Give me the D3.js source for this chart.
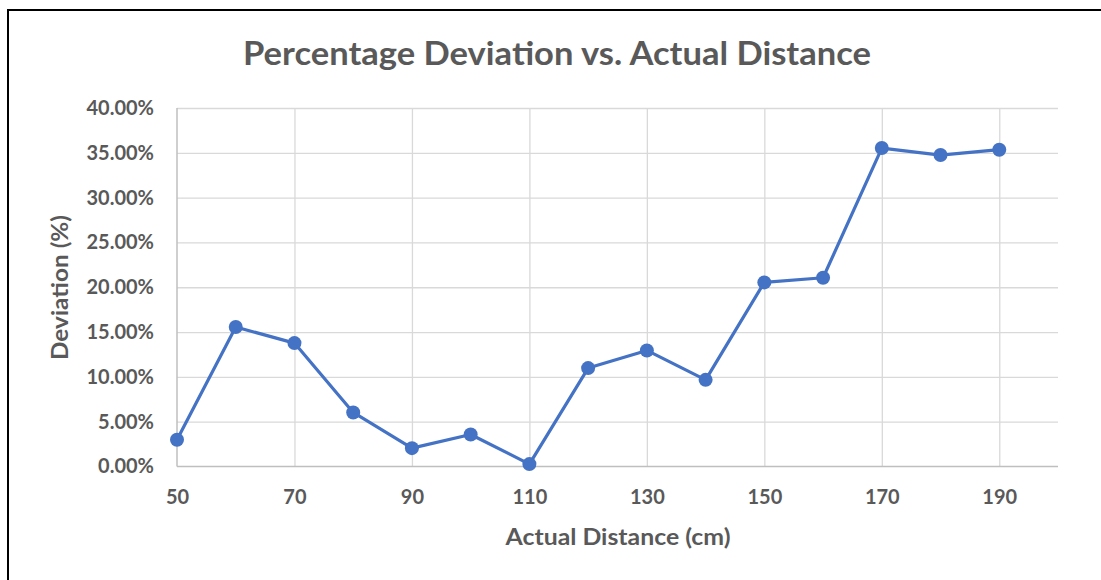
<!DOCTYPE html>
<html>
<head>
<meta charset="utf-8">
<script src="https://cdn.jsdelivr.net/npm/d3@7"></script>
<style>
  html, body { margin: 0; padding: 0; background: #fff; }
  svg { display: block; }
  text { font-family: Lato, "Open Sans", sans-serif; font-weight: 700; fill: #595959; }
</style>
</head>
<body>
<svg id="chart" width="1101" height="580"></svg>
<script>
// Measured distance deviation per actual distance
const distances = [50, 60, 70, 80, 90, 100, 110, 120, 130, 140, 150, 160, 170, 180, 190];
const deviations = [0.0298, 0.1556, 0.1377, 0.0603, 0.0205, 0.0357, 0.0027, 0.1098, 0.1295, 0.0967, 0.2054, 0.2106, 0.3553, 0.3475, 0.3535];
const xTicks = [50, 70, 90, 110, 130, 150, 170, 190];
const yTicks = [0, 0.05, 0.10, 0.15, 0.20, 0.25, 0.30, 0.35, 0.40];

const titleText = "Percentage Deviation vs. Actual Distance";
const xTitle = "Actual Distance (cm)";
const yTitle = "Deviation (%)";

const svg = d3.select("#chart");
const plot = { left: 177, top: 108, right: 1058, bottom: 466.5 };

const x = d3.scaleLinear().domain([50, 200]).range([plot.left, plot.right]);
const y = d3.scaleLinear().domain([0, 0.40]).range([plot.bottom, plot.top]);

// Chart frame
svg.append("rect")
  .attr("x", 8).attr("y", 10)
  .attr("width", 1120).attr("height", 600)
  .attr("fill", "none").attr("stroke", "#000").attr("stroke-width", 2);

// Horizontal gridlines
svg.append("g")
  .attr("transform", `translate(${plot.left},0)`)
  .call(d3.axisLeft(y).tickValues(yTicks.slice(1)).tickSize(-(plot.right - plot.left)).tickFormat(""))
  .call(g => g.select(".domain").remove())
  .call(g => g.selectAll(".tick line").attr("stroke", "#d9d9d9").attr("stroke-width", 1.3));

// Vertical gridlines
svg.append("g")
  .attr("transform", `translate(0,${plot.top})`)
  .call(d3.axisTop(x).tickValues(xTicks.slice(1)).tickSize(-(plot.bottom - plot.top)).tickFormat(""))
  .call(g => g.select(".domain").remove())
  .call(g => g.selectAll(".tick line").attr("stroke", "#d9d9d9").attr("stroke-width", 1.3));

// Axis lines
svg.append("line")
  .attr("x1", plot.left).attr("x2", plot.right)
  .attr("y1", plot.bottom).attr("y2", plot.bottom)
  .attr("stroke", "#bfbfbf").attr("stroke-width", 1.5);
svg.append("line")
  .attr("x1", plot.left).attr("x2", plot.left)
  .attr("y1", plot.top).attr("y2", plot.bottom)
  .attr("stroke", "#bfbfbf").attr("stroke-width", 1.5);

// Y tick labels
const yAxis = svg.append("g")
  .attr("transform", `translate(${plot.left},0)`)
  .call(d3.axisLeft(y).tickValues(yTicks).tickSize(0).tickPadding(23).tickFormat(d3.format(".2%")));
yAxis.select(".domain").remove();
yAxis.selectAll("text").attr("font-size", 20).attr("fill", "#595959")
  .style("font-family", "Lato, sans-serif").style("font-weight", 700);

// X tick labels
const xAxis = svg.append("g")
  .attr("transform", `translate(0,${plot.bottom})`)
  .call(d3.axisBottom(x).tickValues(xTicks).tickSize(0).tickPadding(23).tickFormat(d3.format("d")));
xAxis.select(".domain").remove();
xAxis.selectAll("text").attr("font-size", 20).attr("fill", "#595959")
  .style("font-family", "Lato, sans-serif").style("font-weight", 700);

// Series line
svg.append("path")
  .datum(distances.map((d, i) => [d, deviations[i]]))
  .attr("fill", "none")
  .attr("stroke", "#4472c4")
  .attr("stroke-width", 3.2)
  .attr("stroke-linejoin", "round")
  .attr("d", d3.line().x(d => x(d[0])).y(d => y(d[1])));

// Markers
svg.append("g")
  .selectAll("circle")
  .data(distances.map((d, i) => [d, deviations[i]]))
  .join("circle")
  .attr("cx", d => x(d[0]))
  .attr("cy", d => y(d[1]))
  .attr("r", 7)
  .attr("fill", "#4472c4");

// Titles
svg.append("text")
  .attr("x", 557).attr("y", 65)
  .attr("text-anchor", "middle")
  .attr("font-size", 32)
  .attr("textLength", 628)
  .attr("lengthAdjust", "spacingAndGlyphs")
  .text(titleText);

svg.append("text")
  .attr("x", 618).attr("y", 545)
  .attr("text-anchor", "middle")
  .attr("font-size", 22)
  .attr("textLength", 225)
  .attr("lengthAdjust", "spacingAndGlyphs")
  .text(xTitle);

svg.append("text")
  .attr("transform", "translate(68,287.5) rotate(-90)")
  .attr("text-anchor", "middle")
  .attr("font-size", 22)
  .attr("textLength", 145)
  .attr("lengthAdjust", "spacingAndGlyphs")
  .text(yTitle);
</script>
</body>
</html>
